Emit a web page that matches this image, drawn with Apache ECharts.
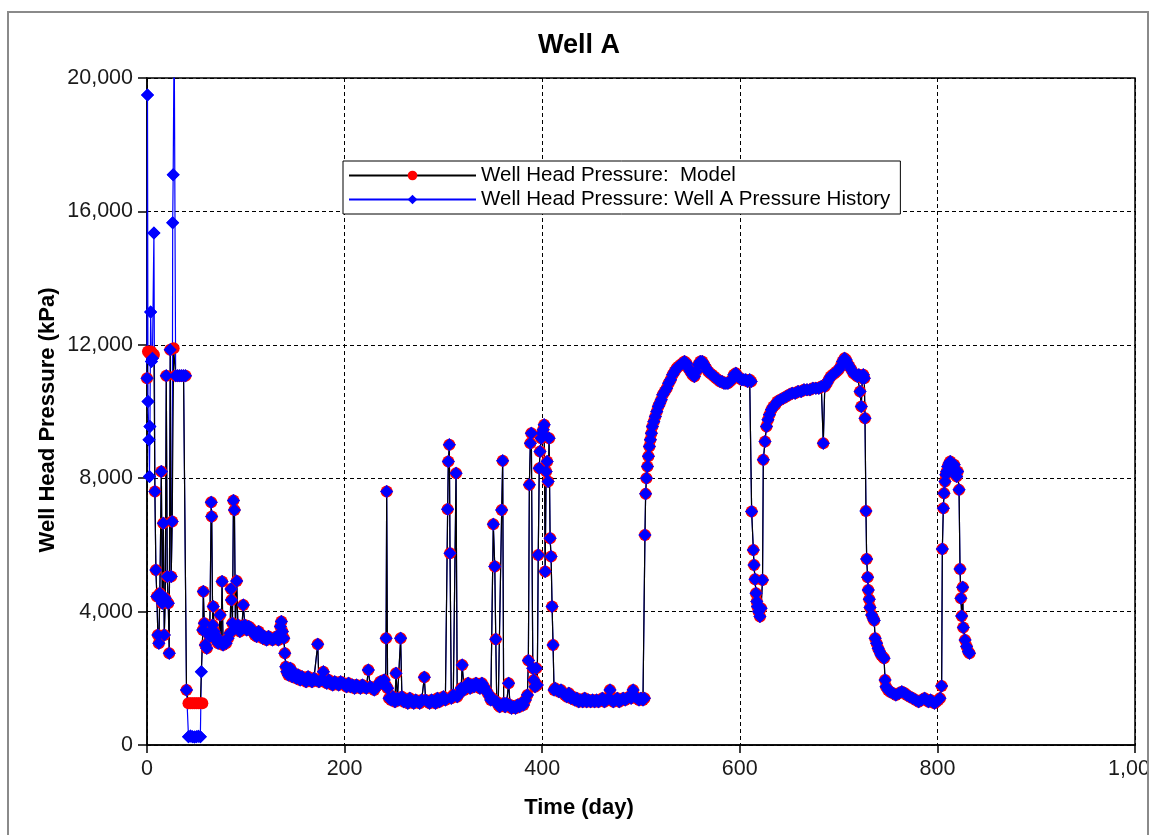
<!DOCTYPE html>
<html>
<head>
<meta charset="utf-8">
<title>Well A</title>
<script src="https://cdn.jsdelivr.net/npm/echarts@6/dist/echarts.min.js"></script>
<style>
  html, body { margin: 0; padding: 0; background: #fff; }
  #chart { position: absolute; left: 0; top: 0; width: 1147px; height: 835px; }
  #frame { position: absolute; left: 7px; top: 11px; width: 1138px; height: 840px;
           border: 2px solid #8a8a8a; border-bottom: none; pointer-events: none; }
</style>
</head>
<body>
<div id="chart"></div>
<div id="frame"></div>
<script>
// Well head pressure, [day, kPa]

// Start-up period: the measured history and the model part ways here
const historyStartup = [
  [0,11000],[0.5,19490],[1,10300],[2,9150],[2.5,8050],[3,9550],[3.7,12980],[4.5,11500],[5.5,11600],
  [7,15350],[8,7600],[9,5250],[10,4450],[11,3300],[12,3050],[13,4550],[14.5,8200],[15.5,4250],
  [16.5,6650],[17.5,3300],[18.5,4400],[19.5,11070],[20.5,5050],[21.5,4250],[22.5,2750],[23.5,11850],
  [24.5,5050],[25.5,6700],[26,15660],[26.5,17100],[27.5,21500],[29,11070],[31,11070],[33,11070],
  [35,11070],[37,11070],[39,11070],[40,1650],[42,250],[44,270],[46,250],[48,240],[50,250],[52,260],
  [54,250],[55,2200]
];

const modelStartup = [
  [0,11000],[1,11800],[2.5,11750],[4,11800],[5.5,11750],[7,11700],[8,7600],[9,5250],[10,4450],
  [11,3300],[12,3050],[13,4550],[14.5,8200],[15.5,4250],[16.5,6650],[17.5,3300],[18.5,4400],
  [19.5,11070],[20.5,5050],[21.5,4250],[22.5,2750],[23.5,11850],[24.5,5050],[25.5,6700],[27,11900],
  [29,11070],[31,11070],[33,11070],[35,11070],[37,11070],[39,11070],[40,1650],[42,1250],[44,1250],
  [46,1250],[48,1250],[50,1250],[52,1250],[54,1250],[56,1250]
];

// From here on the model tracks the history
const earlyFlow = [
  [56.5,3450],[57,4600],[58,3650],[59,3000],[60.5,2900],[62,3350],[63.5,3250],[65,7280],[65.5,6850],
  [66.5,3600],[67,4150],[68,3400],[69,3300],[70,3150],[72,3050],[74,3900],[75,3100],[76,4900],
  [77,3000],[78,3100],[80,3050],[82,3200],[84,3350],[85,4680],[85.5,4350],[86.5,3650],[87.5,7330],
  [88.5,7050],[89.5,3500],[90.8,4920],[92,3600],[94,3400],[96,3550],[97.5,4200],[99,3600],
  [101,3450],[103,3550],[105,3500],[107,3400],[109,3300],[111,3250],[113,3400],[115,3300],
  [117,3200],[119,3250],[121,3150],[123,3250],[125,3200],[127,3150],[129,3200],[131,3250],
  [133,3150],[135,3550],[136,3700],[137,3400],[138.5,3200],[139.5,2750],[140.5,2350]
];

const midFlow = [
  [141.5,2200],[143,2100],[145,2300],[147,2050],[149,2150],[151,2000],[153,2100],[155,1950],
  [157,2050],[159,1950],[161,1900],[163,2050],[165,1950],[167,1900],[169,2000],[171,1950],
  [172.8,3020],[174,1900],[176,1950],[178.5,2200],[180,1900],[182,1850],[184,1950],[186,1850],
  [188,1800],[190,1900],[192,1850],[194,1800],[196,1900],[198.7,1850],[200,1800],[202,1750],
  [204,1850],[206,1750],[208,1800],[210,1700],[212,1800],[214,1750],[216,1700],[218,1800],
  [220,1750],[222,1700],[224,2250],[226,1750],[228,1700],[230,1650],[232,1750],[234,1800],
  [236,1900],[238,1850],[240,1950],[241.5,1800],[242,3200],[242.6,7600],[243.5,1700],[245,1400],
  [247,1350],[249,1450],[251,1300],[252,2150],[253.5,1400],[255,1350],[256.7,3200],[258,1450],
  [260,1300],[262,1350],[264,1250],[266,1400],[268,1300],[270,1250],[272,1350],[274,1300],
  [276,1250],[278,1350],[280.7,2030],[282,1350],[284,1300],[286,1250],[288,1350],[290,1300],
  [292,1250],[294,1400],[296,1300],[298,1350],[300,1450],[302,1350],[304.3,7070],[305,8500],
  [306,9000],[306.7,5750],[308,1400],[310,1500],[312.8,8150],[314,1450],[316,1550],[318,1700],
  [319,2400],[321,1650],[323,1750],[325,1850],[327,1700],[329,1800],[331,1750],[333,1850],
  [335,1800],[337,1700],[339,1850],[341,1750],[343,1650],[345,1550],[347,1450],[348,1350],
  [349.5,1400],[350.5,6620],[352,5350],[353,3170],[354,1300],[355.5,1200],[357,1150],[359,7050],
  [360,8520],[361,1250],[362.5,1150],[364,1250],[366,1850],[367.5,1200],[369,1100],[371,1150],
  [373,1100],[375,1200],[377,1150],[379,1250],[381,1200],[383,1350],[385,1500],[386,2530],
  [387,7800],[388,9050],[389,9350],[390.5,2300],[391.5,1950],[392.7,1750],[394,2300],[395,1800],
  [396,5700],[397,8300],[397.8,8800],[399,9200],[400,9350],[401,9450],[402,9600],[403,5200],
  [404,8200],[405,8500],[406,7900],[407,9200],[408,6200],[409,5650],[410,4150],[411,3000],
  [412,1650]
];

const lowFlow = [
  [413,1700],[415,1650],[417,1600],[419,1650],[421,1550],[423,1500],[425,1450],[427,1550],
  [429,1400],[431,1450],[433,1350],[435,1400],[437,1300],[439,1350],[441,1300],[443,1400],
  [445,1300],[447,1350],[449,1300],[451,1350],[453,1300],[455,1350],[457,1300],[459,1350],
  [461,1400],[463,1300],[465,1350],[467,1400],[468.6,1650],[470,1350],[472,1300],[474,1350],
  [476,1400],[478,1300],[480,1350],[482,1400],[484,1350],[486,1400],[488,1450],[490,1400],
  [492,1650],[494,1450],[496,1400],[498,1350],[500,1400],[502,1350],[503.5,1400]
];

const firstShutIn = [
  [504,6300],[504.7,7530],[505.5,8000],[506.5,8350],[507.5,8660],[508.5,8950],[509.5,9150],
  [510.5,9350],[511.5,9550],[513,9700],[514.5,9850],[516,10000],[517.5,10150],[519,10250],
  [520.5,10350],[522,10500],[524,10600],[526,10700],[528,10850],[530,10950],[532,11100],
  [534,11200],[536,11300],[538,11350],[540,11400],[542,11450],[544,11500],[546,11450],
  [548,11300],[550,11200],[552,11100],[554,11050],[556,11200],[558,11400],[560,11500],
  [562,11500],[564,11400],[566,11300],[568,11200],[570,11150],[572,11100],[574,11050],
  [576,11000],[578,10950],[580,10900],[582,10900],[584,10850],[586,10850],[588,10850],
  [590,10900],[592,10950],[594,11100],[596,11150],[598,11050],[600,11000],[602,10950],
  [604,10950],[606,10950],[608,10900],[610,10950],[611.5,10900]
];

const secondShutIn = [
  [612,7000],[613.7,5850],[614.4,5400],[615.4,4970],[616.4,4550],[617.2,4300],[617.8,4150],
  [619,4000],[620.4,3850],[621.5,4100],[623,4950],[623.8,8550],[625.5,9100],[627,9550],
  [628.5,9750],[630,9900],[632,10050],[634,10150],[636,10200],[638,10300],[641,10350],
  [644,10400],[647,10450],[650,10500],[653,10550],[656,10550],[659,10600],[662,10600],
  [665,10650],[668,10650],[671,10650],[674,10700],[677,10700],[680,10700],[682.5,10750],
  [684.5,9050],[686,10750],[688,10850],[690,10950],[692,11050],[694,11100],[696,11150],
  [698,11200],[700,11250],[702,11350],[704,11500],[706,11600],[707.5,11550],[709,11450],
  [711,11350],[713,11250],[715,11150],[717,11100],[719,11050],[720.5,11100],[721.7,10600],
  [723,10150],[724,11000],[725,11100],[726,11000],[726.7,9800]
];

const lateFlow = [
  [727.7,7020],[728.4,5580],[729.4,5030],[730,4650],[731,4370],[731.8,4120],[733.5,3900],
  [735,3800],[736,3730],[737,3200],[738.5,3050],[740,2900],[741.5,2800],[743,2700],[744.5,2650],
  [746,2600],[747,1950],[748,1750],[750,1650],[752,1600],[755,1550],[758,1500],[761,1550],
  [764,1600],[767,1550],[769,1500],[772,1450],[775,1400],[778,1350],[781,1300],[784,1350],
  [787,1400],[789,1350],[791,1300],[793,1350],[795,1300],[797,1250],[799,1300],[801,1350],
  [802.6,1400],[804.3,1770],[805,5880],[806,7100],[806.7,7550],[807.7,7900],[808.5,8100],
  [809.4,8200],[810.5,8350],[812,8450],[813,8500],[814,8400],[815,8300],[816,8350],[817,8400],
  [818,8200],[819.5,8050],[820.5,8200],[821.9,7650],[822.9,5280],[823.8,4400],[824.6,3870],
  [825.6,4730],[826.2,3520],[828,3150],[829.6,2950],[831.3,2800],[832.5,2750]
];

const yTicks = [0, 4000, 8000, 12000, 16000, 20000];
const xTicks = [0, 200, 400, 600, 800, 1000];

const modelName = 'Well Head Pressure:  Model';
const historyName = 'Well Head Pressure: Well A Pressure History';

const tracked = [].concat(earlyFlow, midFlow, lowFlow, firstShutIn, secondShutIn, lateFlow);
const historyData = historyStartup.concat(tracked);
const modelData = modelStartup.concat(tracked);

const FONT = '"Liberation Sans", Arial, sans-serif';
const withCommas = v => String(Math.round(v)).replace(/\B(?=(\d{3})+(?!\d))/g, ',');

const chart = echarts.init(document.getElementById('chart'), null, { renderer: 'canvas' });

chart.setOption({
  animation: false,
  backgroundColor: '#fff',
  textStyle: { fontFamily: FONT },
  grid: {
    left: 147, right: 12, top: 78, bottom: 90,
    outerBoundsMode: 'none',
    containLabel: false,
    show: true, borderColor: '#000', borderWidth: 1.5, backgroundColor: 'transparent'
  },
  legend: {
    data: [modelName, historyName],
    orient: 'vertical',
    left: 343, top: 161,
    padding: [4, 10, 4, 5],
    itemWidth: 127, itemHeight: 12, itemGap: 3,
    borderColor: '#000', borderWidth: 1, backgroundColor: '#fff',
    z: 10,
    textStyle: { fontFamily: FONT, fontSize: 20.5, color: '#000' }
  },
  xAxis: {
    type: 'value',
    min: xTicks[0], max: xTicks[xTicks.length - 1], interval: xTicks[1] - xTicks[0],
    axisLine: { show: true, onZero: false, lineStyle: { color: '#000', width: 1.5 } },
    axisTick: { show: true, inside: false, length: 8, lineStyle: { color: '#000', width: 1.5 } },
    axisLabel: { margin: 13, fontSize: 21.5, color: '#1a1a1a', fontFamily: FONT, formatter: withCommas },
    splitLine: { show: true, lineStyle: { color: '#000', width: 1, type: [4, 3] } }
  },
  yAxis: {
    type: 'value',
    min: yTicks[0], max: yTicks[yTicks.length - 1], interval: yTicks[1] - yTicks[0],
    axisLine: { show: true, lineStyle: { color: '#000', width: 1.5 } },
    axisTick: { show: true, inside: false, length: 9, lineStyle: { color: '#000', width: 1.5 } },
    axisLabel: { margin: 14, fontSize: 21.5, color: '#1a1a1a', fontFamily: FONT, formatter: withCommas },
    splitLine: { show: true, lineStyle: { color: '#000', width: 1, type: [4, 3] } }
  },
  graphic: [
    { type: 'text', x: 579, y: 46, z: 20,
      style: { text: 'Well A', font: 'bold 27px ' + FONT, fill: '#000', align: 'center', verticalAlign: 'middle' } },
    { type: 'text', x: 579, y: 808, z: 20,
      style: { text: 'Time (day)', font: 'bold 22px ' + FONT, fill: '#000', align: 'center', verticalAlign: 'middle' } },
    { type: 'text', x: 48, y: 420, rotation: Math.PI / 2, z: 20,
      style: { text: 'Well Head Pressure (kPa)', font: 'bold 22px ' + FONT, fill: '#000', align: 'center', verticalAlign: 'middle' } }
  ],
  series: [
    {
      name: historyName, type: 'line', z: 2,
      data: historyData,
      symbol: 'diamond', symbolSize: 13,
      itemStyle: { color: '#0000ff' },
      lineStyle: { color: '#0000ff', width: 1.2 },
      emphasis: { disabled: true }
    },
    {
      name: modelName, type: 'line', z: 3,
      data: modelData,
      symbol: 'circle', symbolSize: 12,
      itemStyle: { color: '#ff0000' },
      lineStyle: { color: '#000000', width: 1.2 },
      emphasis: { disabled: true }
    },
    {
      // history markers kept above the model circles
      name: 'history markers', type: 'line', z: 4,
      data: historyData,
      symbol: 'diamond', symbolSize: 13,
      itemStyle: { color: '#0000ff' },
      lineStyle: { opacity: 0 },
      emphasis: { disabled: true }
    }
  ]
});
</script>
</body>
</html>
